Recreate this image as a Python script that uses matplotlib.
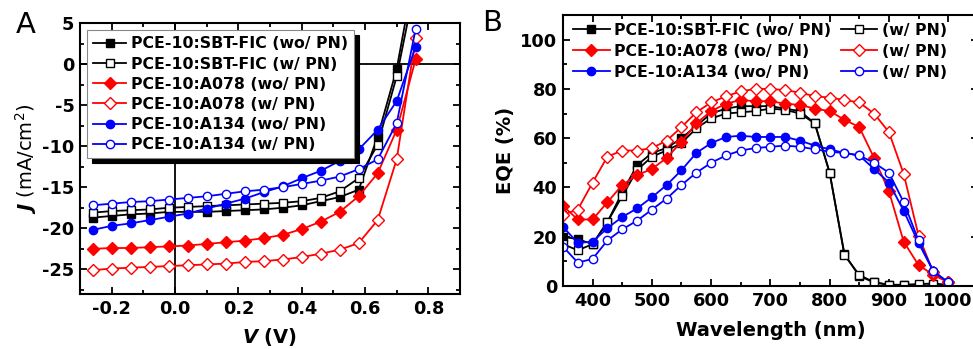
import matplotlib
matplotlib.use("Agg")
import matplotlib.pyplot as plt
from matplotlib.ticker import MultipleLocator

plt.rcParams["font.family"] = ["DejaVu Sans"]
plt.rcParams["mathtext.fontset"] = "custom"
plt.rcParams["mathtext.it"] = "DejaVu Sans:italic:bold"
plt.rcParams["mathtext.rm"] = "DejaVu Sans"

# ---- panel A: J-V curves ----
voltage = [-0.26, -0.20, -0.14, -0.08, -0.02, 0.04, 0.10, 0.16, 0.22,
           0.28, 0.34, 0.40, 0.46, 0.52, 0.58, 0.64, 0.70, 0.76]
j_sbt_wo = [-18.7, -18.5, -18.3, -18.2, -18.0, -18.0, -18.0, -17.9, -17.8,
            -17.7, -17.5, -17.2, -16.7, -16.2, -15.3, -8.8, -0.6, 12.0]
j_sbt_w = [-18.1, -17.9, -17.8, -17.7, -17.5, -17.4, -17.3, -17.2, -17.1,
           -17.0, -16.9, -16.7, -16.3, -15.5, -13.9, -9.8, -1.5, 10.0]
j_a078_wo = [-22.5, -22.4, -22.4, -22.3, -22.2, -22.1, -21.9, -21.7, -21.5,
             -21.2, -20.8, -20.1, -19.2, -18.0, -16.1, -13.3, -8.0, 0.6]
j_a078_w = [-25.1, -24.9, -24.8, -24.7, -24.6, -24.5, -24.4, -24.3, -24.1,
            -24.0, -23.8, -23.5, -23.1, -22.6, -21.8, -19.0, -11.6, 3.2]
j_a134_wo = [-20.2, -19.7, -19.4, -19.0, -18.6, -18.2, -17.6, -17.0, -16.4,
             -15.6, -14.9, -13.9, -13.0, -11.8, -10.4, -8.0, -4.5, 2.1]
j_a134_w = [-17.2, -17.0, -16.8, -16.7, -16.5, -16.3, -16.1, -15.8, -15.5,
            -15.3, -15.0, -14.6, -14.2, -13.7, -12.8, -11.6, -7.2, 4.3]

# ---- panel B: EQE spectra ----
wavelength = list(range(350, 1001, 25))
eqe_sbt_wo = [20, 19, 17, 26, 38, 49, 54, 56, 60, 65, 70, 72, 73, 73,
              73, 72, 71, 66, 46, 13, 4, 1.5, 0.5, 0.3, 0.2, 0.2, 0.1]
eqe_sbt_w = [17, 14.5, 17, 26, 36.5, 47, 52.5, 55, 58, 64, 68, 70, 70.5, 71,
             72, 71.5, 70, 66, 46, 12.5, 4.5, 1.5, 0.5, 0.5, 0.8, 1.0, 0.5]
eqe_a078_wo = [32.5, 27, 27, 34, 41, 45, 47.5, 52, 58.5, 66, 71, 74, 75.5, 75,
               75, 74, 73.5, 72, 71, 67.5, 64.5, 52, 38.5, 18, 8.5, 4.5, 1.5]
eqe_a078_w = [29, 31, 42, 52.5, 55, 55, 56, 59, 64.5, 70.5, 74.5, 77, 79, 80,
              80, 79.5, 78.5, 77, 76.5, 75.5, 74.5, 70, 62.5, 45.5, 20.5, 5.5, 1.5]
eqe_a134_wo = [24, 17.5, 18, 23.5, 28, 31.5, 36, 41, 47, 54, 58, 60.5, 61, 60.5,
               60.5, 60.5, 59, 57, 55.5, 54, 53, 47.5, 42, 30.5, 17.5, 6, 1.5]
eqe_a134_w = [16, 9.5, 11, 18.5, 23, 26.5, 31, 35.5, 41, 46, 50, 53, 55, 56,
              56.5, 57, 56.5, 55.5, 54.5, 54, 53, 50, 46, 34, 18.5, 6, 1.5]

labels_a = ["PCE-10:SBT-FIC (wo/ PN)", "PCE-10:SBT-FIC (w/ PN)",
            "PCE-10:A078 (wo/ PN)", "PCE-10:A078 (w/ PN)",
            "PCE-10:A134 (wo/ PN)", "PCE-10:A134 (w/ PN)"]

# (color, marker, filled)
styles = [("black", "s", True), ("black", "s", False),
          ("red", "D", True), ("red", "D", False),
          ("blue", "o", True), ("blue", "o", False)]


def draw(ax, x, y, style, label, ms):
    color, marker, filled = style
    ax.plot(x, y, color=color, lw=1.3, marker=marker, ms=ms,
            mfc=color if filled else "white", mec=color, mew=1.0, label=label)


def style_axes(ax):
    for sp in ax.spines.values():
        sp.set_linewidth(1.5)
    ax.tick_params(which="both", direction="in", top=True, right=True, width=1.3,
                   labelsize=12.8, pad=4)
    ax.tick_params(which="major", length=5)
    ax.tick_params(which="minor", length=3)
    for lab in ax.get_xticklabels() + ax.get_yticklabels():
        lab.set_fontweight("bold")


fig = plt.figure(figsize=(9.73, 3.49), dpi=100)

# panel A
ax1 = fig.add_axes([0.0822, 0.1576, 0.3906, 0.7765])
ax1.axhline(0, color="black", lw=1.3, zorder=1)
ax1.axvline(0, color="black", lw=1.3, zorder=1)
series_a = [j_sbt_wo, j_sbt_w, j_a078_wo, j_a078_w, j_a134_wo, j_a134_w]
for ys, st, lab in zip(series_a, styles, labels_a):
    draw(ax1, voltage, ys, st, lab, 6)
ax1.set_xlim(-0.3, 0.9)
ax1.set_ylim(-28, 5)
ax1.xaxis.set_minor_locator(MultipleLocator(0.1))
ax1.yaxis.set_minor_locator(MultipleLocator(2.5))
ax1.set_xticks([-0.2, 0.0, 0.2, 0.4, 0.6, 0.8])
ax1.set_xticklabels(["-0.2", "0.0", "0.2", "0.4", "0.6", "0.8"])
ax1.set_yticks([-25, -20, -15, -10, -5, 0, 5])
ax1.set_yticklabels(["-25", "-20", "-15", "-10", "-5", "0", "5"])
style_axes(ax1)
ax1.set_xlabel(r"$V$ (V)", fontsize=14, fontweight="bold", labelpad=6)
ax1.set_ylabel(r"$J$ (mA/cm$^2$)", fontsize=14, labelpad=2)
leg1 = ax1.legend(loc="upper left", bbox_to_anchor=(0.018, 0.974), borderaxespad=0,
                  prop={"weight": "bold", "size": 11.3}, handlelength=2.1,
                  handletextpad=0.3, labelspacing=0.33, borderpad=0.4,
                  fancybox=False, framealpha=1, edgecolor="#888888",
                  shadow={"color": "black", "alpha": 1, "ox": 3.5, "oy": -3.5})
leg1.get_frame().set_linewidth(0.8)

# panel B
ax2 = fig.add_axes([0.5786, 0.1805, 0.4263, 0.7765])
series_b = [eqe_sbt_wo, eqe_sbt_w, eqe_a078_wo, eqe_a078_w, eqe_a134_wo, eqe_a134_w]
for ys, st, lab in zip(series_b, styles, labels_a):
    draw(ax2, wavelength, ys, st, lab, 6)
ax2.set_xlim(350, 1050)
ax2.set_ylim(0, 110)
ax2.xaxis.set_minor_locator(MultipleLocator(50))
ax2.yaxis.set_minor_locator(MultipleLocator(10))
ax2.set_yticks([0, 20, 40, 60, 80, 100])
ax2.set_xticks([400, 500, 600, 700, 800, 900, 1000])
style_axes(ax2)
ax2.set_xlabel("Wavelength (nm)", fontsize=14, fontweight="bold", labelpad=8)
ax2.set_ylabel("EQE (%)", fontsize=14, fontweight="bold", labelpad=4)

h, _ = ax2.get_legend_handles_labels()
order = [0, 2, 4, 1, 3, 5]
leg_labels = ["PCE-10:SBT-FIC (wo/ PN)", "PCE-10:A078 (wo/ PN)", "PCE-10:A134 (wo/ PN)",
              "(w/ PN)", "(w/ PN)", "(w/ PN)"]
ax2.legend([h[i] for i in order], leg_labels, ncol=2, loc="upper left",
           bbox_to_anchor=(0.01, 0.995), borderaxespad=0, frameon=False,
           prop={"weight": "bold", "size": 11.3}, handlelength=2.3,
           handletextpad=0.3, labelspacing=0.38, columnspacing=0.6)

fig.text(0.016, 0.905, "A", fontsize=21)
fig.text(0.495, 0.91, "B", fontsize=21)

fig.savefig("out.png", dpi=100)
